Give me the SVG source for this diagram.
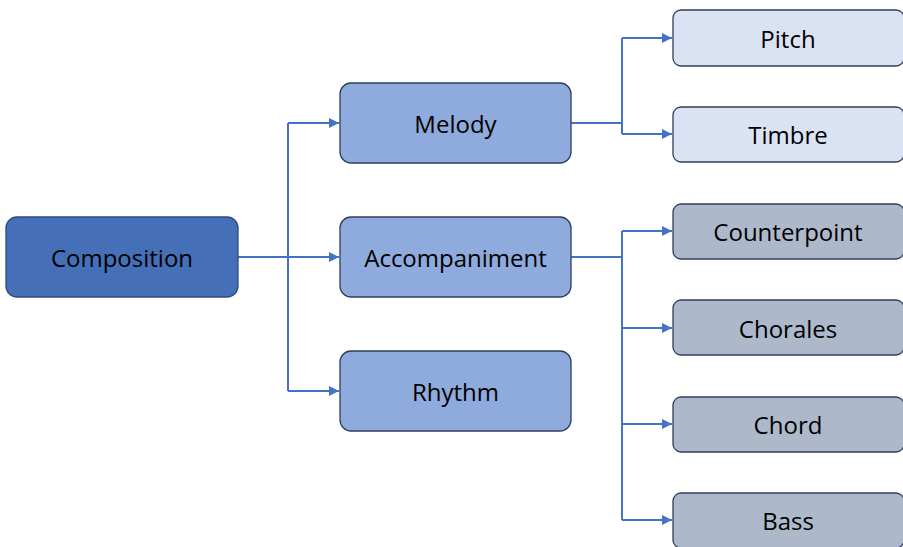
<svg xmlns="http://www.w3.org/2000/svg" width="903" height="547" viewBox="0 0 903 547">
<defs>
<style>
.n rect{stroke-width:1.3;}
.l0 rect{fill:#4570B8;stroke:#2F4A80;}
.l1 rect{fill:#8FAADC;stroke:#2F3E5C;}
.l2a rect{fill:#DAE3F3;stroke:#2F3E5C;}
.l2b rect{fill:#ADB9CA;stroke:#2F3E5C;}
text{font-family:"Open Sans","Noto Sans",sans-serif;font-size:24px;fill:#000;text-anchor:middle;dominant-baseline:central;}
.c path{fill:none;stroke:#4472C4;stroke-width:2;}
</style>
<marker id="a" viewBox="0 0 10 10" refX="10" refY="5" markerWidth="5" markerHeight="5" orient="auto" markerUnits="strokeWidth">
<path d="M0,0 L10,5 L0,10 z" fill="#4472C4"/>
</marker>
</defs>
<g class="c">
<path d="M238,257 H288"/>
<path d="M288,123 V391"/>
<path d="M288,123 H339" marker-end="url(#a)"/>
<path d="M288,257 H339" marker-end="url(#a)"/>
<path d="M288,391 H339" marker-end="url(#a)"/>
<path d="M571,123 H622"/>
<path d="M622,38 V134"/>
<path d="M622,38 H672" marker-end="url(#a)"/>
<path d="M622,134 H672" marker-end="url(#a)"/>
<path d="M571,257 H622"/>
<path d="M622,231 V520"/>
<path d="M622,231 H672" marker-end="url(#a)"/>
<path d="M622,328 H672" marker-end="url(#a)"/>
<path d="M622,424 H672" marker-end="url(#a)"/>
<path d="M622,520 H672" marker-end="url(#a)"/>
</g>
<g id="composition" class="n l0"><rect x="6" y="217" width="232" height="80" rx="11"/><text x="122" y="257">Composition</text></g>
<g id="melody" class="n l1"><rect x="340" y="83" width="231" height="80" rx="11"/><text x="455.5" y="123">Melody</text></g>
<g id="accompaniment" class="n l1"><rect x="340" y="217" width="231" height="80" rx="11"/><text x="455.5" y="257">Accompaniment</text></g>
<g id="rhythm" class="n l1"><rect x="340" y="351" width="231" height="80" rx="11"/><text x="455.5" y="391">Rhythm</text></g>
<g id="pitch" class="n l2a"><rect x="673" y="10" width="231" height="56" rx="8"/><text x="788" y="38">Pitch</text></g>
<g id="timbre" class="n l2a"><rect x="673" y="107" width="231" height="55" rx="8"/><text x="788" y="134">Timbre</text></g>
<g id="counterpoint" class="n l2b"><rect x="673" y="204" width="231" height="55" rx="8"/><text x="788" y="231">Counterpoint</text></g>
<g id="chorales" class="n l2b"><rect x="673" y="300" width="231" height="55" rx="8"/><text x="788" y="328">Chorales</text></g>
<g id="chord" class="n l2b"><rect x="673" y="397" width="231" height="55" rx="8"/><text x="788" y="424">Chord</text></g>
<g id="bass" class="n l2b"><rect x="673" y="493" width="231" height="55" rx="8"/><text x="788" y="520">Bass</text></g>
</svg>
